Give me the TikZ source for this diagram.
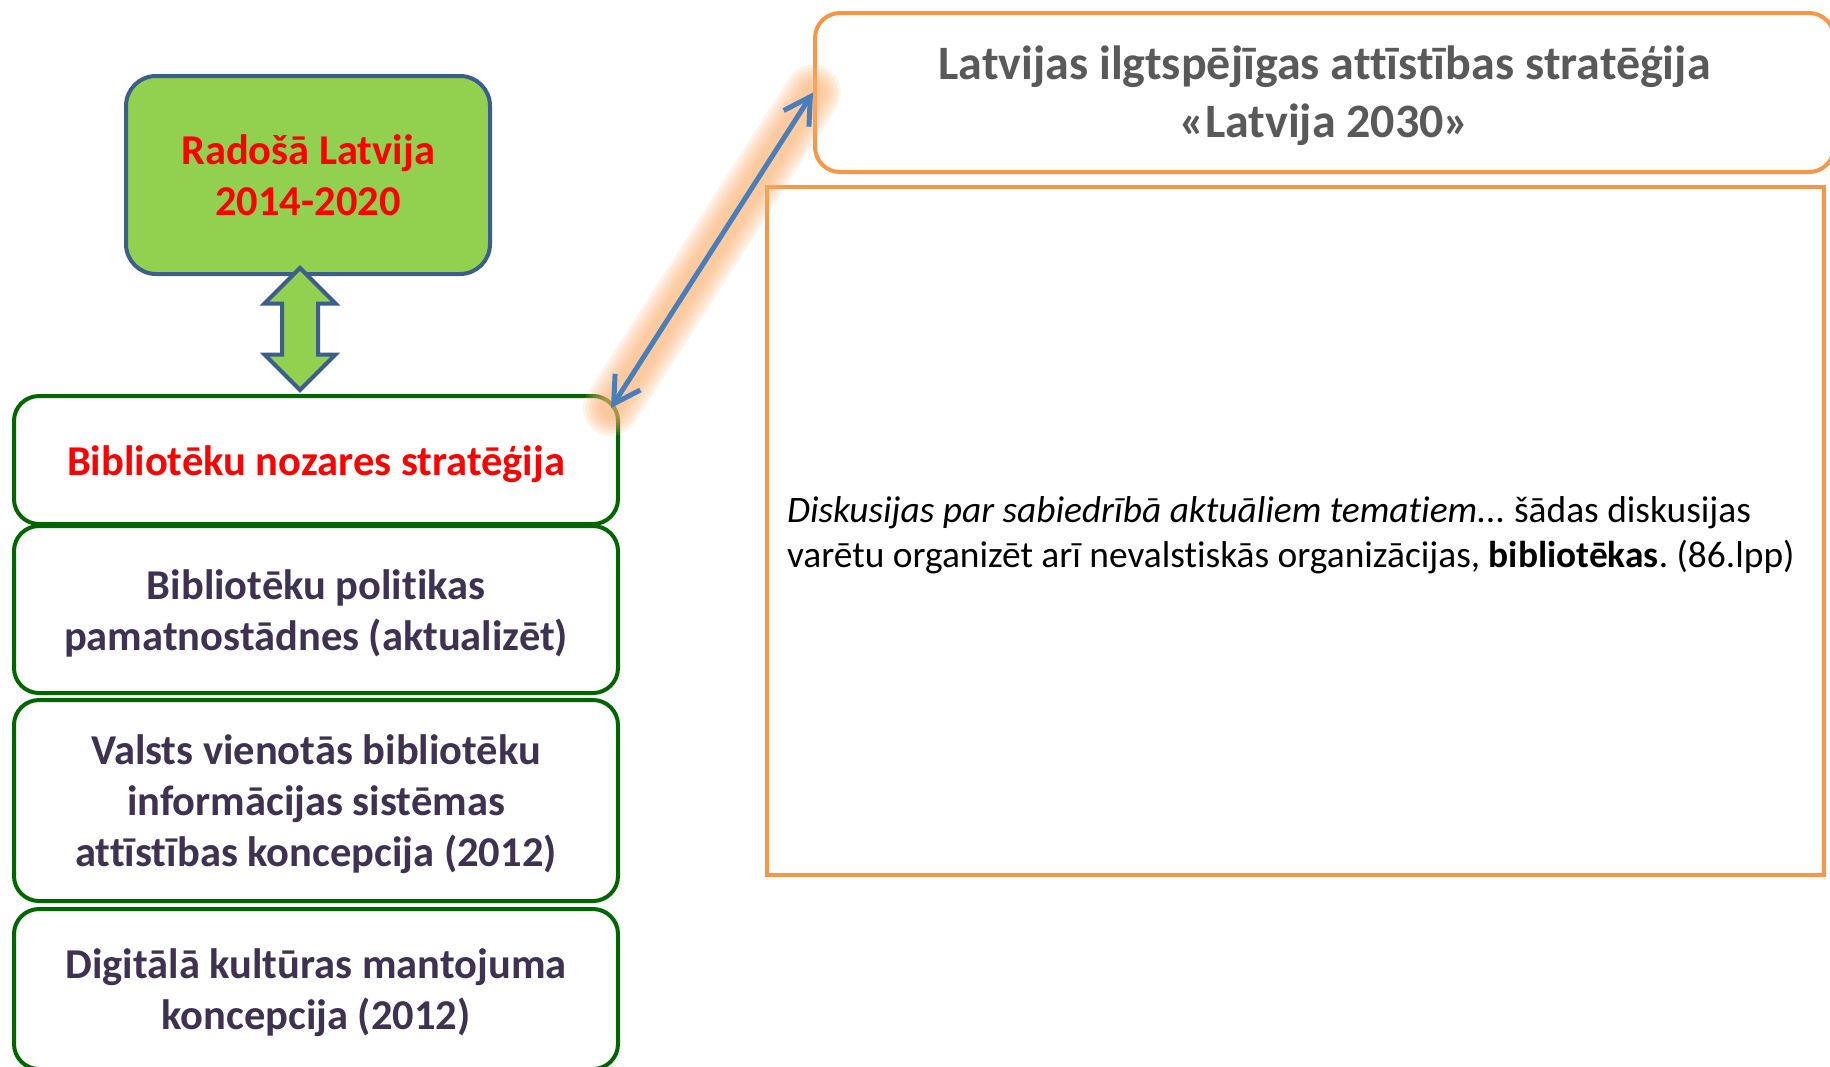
\documentclass[tikz,border=0pt]{standalone}
\usepackage{fontspec}
\setmainfont{Carlito}[Ligatures=NoCommon, RawFeature={-liga;-clig;-rlig;-calt}]
\usetikzlibrary{arrows.meta, shapes.arrows}

\definecolor{leafgreen}{HTML}{92D050}
\definecolor{slateblue}{HTML}{3B5E8C}
\definecolor{darkgreen}{HTML}{006600}
\definecolor{docpurple}{HTML}{3F3151}
\definecolor{docgrey}{HTML}{595959}
\definecolor{planorange}{HTML}{F79646}
\definecolor{glow}{HTML}{FBB070}
\definecolor{linkblue}{HTML}{4A7EBB}

% text block, lowered a little inside its box
\newcommand{\lowtext}[3][c]{\raisebox{-#2}[\height][\depth]{\begin{tabular}{@{}#1@{}}#3\end{tabular}}}

\begin{document}
\frenchspacing
\begin{tikzpicture}[x=1pt,y=-1pt,>={Straight Barb[length=26pt,width=30pt]}]
    \tikzstyle{docbox}=[draw=darkgreen,line width=4pt,rounded corners=25pt,fill=white,
        minimum width=604pt,inner sep=0pt,text=docpurple,
        font=\bfseries\fontsize{42.5}{51}\selectfont]
    \tikzstyle{planbox}=[draw=planorange,line width=4pt,inner sep=0pt]
    \useasboundingbox (0,0) rectangle (1830,1066);

    % left column
    \node[docbox, fill=leafgreen, draw=slateblue, rounded corners=30pt,
          minimum width=364pt, minimum height=198pt, text=red]
          (radosa) at (308,175) {\lowtext{4.5pt}{Radošā Latvija\\2014-2020}};
    \node[docbox, minimum height=128pt, text=red] (strat)  at (316,460)   {\lowtext{5pt}{Bibliotēku nozares stratēģija}};
    \node[docbox, minimum height=167pt]           (polit)  at (316,609.5) {\lowtext{5pt}{Bibliotēku politikas\\pamatnostādnes (aktualizēt)}};
    \node[docbox, minimum height=201pt]           (valsts) at (316,800.5) {\lowtext{5pt}{Valsts vienotās bibliotēku\\informācijas sistēmas\\attīstības koncepcija (2012)}};
    \node[docbox, minimum height=160pt]           (digit)  at (316,989)   {\lowtext{5pt}{Digitālā kultūras mantojuma\\koncepcija (2012)}};

    \node[double arrow, rotate=90, draw=slateblue, fill=leafgreen, line width=4pt,
          inner xsep=0pt, inner ysep=16pt, double arrow head extend=17.5pt,
          minimum height=122pt] (link) at (300,329) {};

    % right column
    \node[planbox, rounded corners=25pt, minimum width=1019pt, minimum height=159pt,
          text=docgrey, font=\bfseries\fontsize{48}{58}\selectfont]
          (lat) at (1324.5,92.5) {\lowtext{4pt}{Latvijas ilgtspējīgas attīstības stratēģija\\«Latvija 2030»}};
    \node[planbox, minimum width=1057pt, minimum height=688pt,
          font=\fontsize{37.4}{45}\selectfont]
          (quote) at (1295.5,531) {\lowtext[p{1017pt}]{5pt}{\textit{Diskusijas par sabiedrībā aktuāliem tematiem...} šādas diskusijas\\
          varētu organizēt arī nevalstiskās organizācijas, \textbf{bibliotēkas}. (86.lpp)}};

    \coordinate (corner) at ([xshift=-9pt,yshift=-14pt]strat.north east);
    \foreach \w in {56,50,44,38,32,26,20}
        \draw[glow, opacity=0.15, line width=\w pt, line cap=round] (corner) -- (lat.west);
    \draw[<->, linkblue, line width=5pt] (corner) -- (lat.west);
\end{tikzpicture}
\end{document}
